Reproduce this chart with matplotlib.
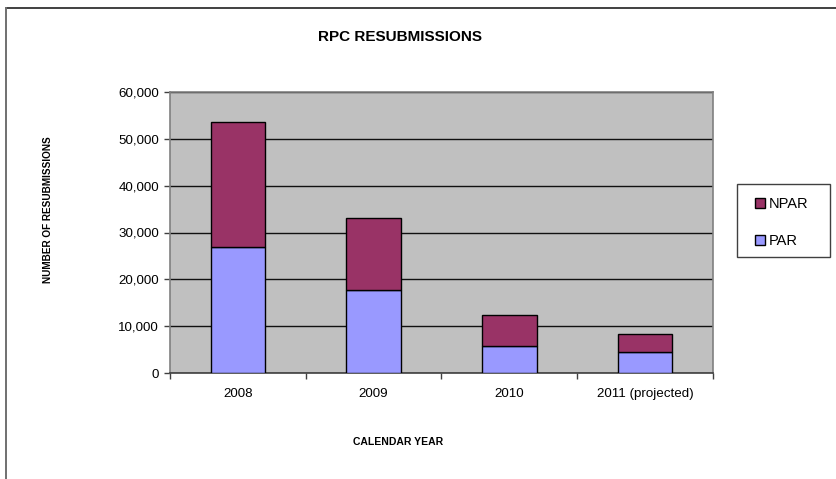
import matplotlib
matplotlib.use("Agg")
import matplotlib.pyplot as plt
from matplotlib.patches import Rectangle, Patch
from matplotlib.ticker import FuncFormatter, FixedLocator

plt.rcParams['font.family'] = ['Liberation Sans', 'DejaVu Sans']

categories = ["2008", "2009", "2010", "2011 (projected)"]
par = [27000, 17700, 5700, 4550]
npar = [26500, 15500, 6700, 3850]

W, H = 837, 479
fig = plt.figure(figsize=(W / 100, H / 100), dpi=100)

# outer chart frame: dark top edge, grey left edge
fig.add_artist(plt.Line2D([6.5 / W, 1.0], [1 - 8 / H, 1 - 8 / H],
                          transform=fig.transFigure, color="#202020", linewidth=1.2))
fig.add_artist(plt.Line2D([6.5 / W, 6.5 / W], [0, 1 - 8 / H],
                          transform=fig.transFigure, color="#707070", linewidth=1.4))

left, right, top, bottom = 170, 713, 92, 373
ax = fig.add_axes([left / W, 1 - bottom / H, (right - left) / W, (bottom - top) / H])
ax.set_facecolor("#C0C0C0")

x = range(len(categories))
width = 0.4
ax.bar(x, par, width, color="#9999FF", edgecolor="black", linewidth=1.0,
       label="PAR", zorder=3)
ax.bar(x, npar, width, bottom=par, color="#993366", edgecolor="black",
       linewidth=1.0, label="NPAR", zorder=3)

ax.set_xlim(-0.5, len(categories) - 0.5)
ax.set_ylim(0, 60000)
ax.set_yticks(range(0, 60001, 10000))
ax.yaxis.set_major_formatter(FuncFormatter(lambda v, p: f"{int(v):,}"))
ax.grid(axis="y", color="#101010", linewidth=1.0, zorder=1)

ax.set_xticks(list(x))
ax.set_xticklabels(categories)
ax.xaxis.set_minor_locator(FixedLocator([i + 0.5 for i in range(-1, len(categories))]))
ax.tick_params(axis="x", which="major", length=0, pad=11, labelsize=9.6)
ax.tick_params(axis="x", which="minor", length=4, width=1, color="#404040", direction="out")
ax.tick_params(axis="y", length=4, width=1, color="#404040", direction="out", pad=4, labelsize=9.6)

for s in ax.spines.values():
    s.set_color("#808080")
    s.set_linewidth(1.2)
ax.spines["bottom"].set_color("#404040")

fig.text(400 / W, 1 - 37 / H, "RPC RESUBMISSIONS", ha="center", va="center",
         fontsize=11, fontweight="bold")
fig.text(48 / W, 1 - 210 / H, "NUMBER OF RESUBMISSIONS", ha="center", va="center",
         rotation=90, fontsize=7.2, fontweight="bold")
fig.text(398 / W, 1 - 442 / H, "CALENDAR YEAR", ha="center", va="center",
         fontsize=7.5, fontweight="bold")

# legend box
fig.add_artist(Rectangle((737 / W, 1 - 257 / H), (830 - 737) / W, (257 - 184) / H,
                         transform=fig.transFigure, facecolor="white",
                         edgecolor="#404040", linewidth=1.0))
handles = [Patch(facecolor="#993366", edgecolor="black", label="NPAR"),
           Patch(facecolor="#9999FF", edgecolor="black", label="PAR")]
leg = fig.legend(handles=handles, loc="upper left",
                 bbox_to_anchor=(751 / W, 1 - 193 / H), fontsize=10.5,
                 frameon=False, handlelength=0.65, handleheight=0.65,
                 handletextpad=0.25, labelspacing=1.55, borderpad=0.3,
                 borderaxespad=0)

fig.savefig("out.png", dpi=100)
